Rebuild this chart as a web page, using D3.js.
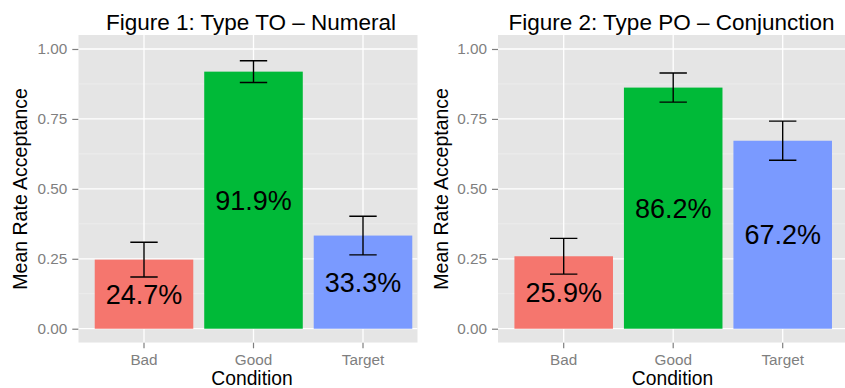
<!DOCTYPE html>
<html><head><meta charset="utf-8">
<script src="https://cdn.jsdelivr.net/npm/d3@7"></script>
<style>body{margin:0;background:#fff}svg{display:block}text{font-family:"Liberation Sans",Arial,sans-serif}</style>
</head><body>
<svg id="c" width="845" height="388"></svg>
<script>
const categories = ["Bad", "Good", "Target"];
const titles = ["Figure 1: Type TO \u2013 Numeral", "Figure 2: Type PO \u2013 Conjunction"];
const means1 = [0.247, 0.919, 0.333];
const errs1 = [0.062, 0.039, 0.069];
const means2 = [0.259, 0.862, 0.672];
const errs2 = [0.064, 0.052, 0.070];
const labels1 = ["24.7%", "91.9%", "33.3%"];
const labels2 = ["25.9%", "86.2%", "67.2%"];
const yTicks = [0, 0.25, 0.5, 0.75, 1];
const yTickLabels = ["0.00", "0.25", "0.50", "0.75", "1.00"];
const colors = ["#F5766E", "#00BA38", "#7A9AFF"];

const svg = d3.select("#c");
const panels = [
  {x0: 78.3, clip: 417.7, means: means1, errs: errs1, labels: labels1, title: titles[0], titleX: 251, yTitleX: 27},
  {x0: 498.0, clip: 845, means: means2, errs: errs2, labels: labels2, title: titles[1], titleX: 671.5, yTitleX: 448}
];
const step = 109.5;
const pTop = 35, pBottom = 342.7;
const y = d3.scaleLinear().domain([-0.05, 1.05]).range([pBottom, pTop]);

panels.forEach((p, pi) => {
  const x = d3.scaleBand().domain(categories).range([p.x0, p.x0 + 3.2 * step]).paddingInner(0.1).paddingOuter(0.15);
  const g = svg.append("g");
  const clipId = "clip" + pi;
  svg.append("clipPath").attr("id", clipId).append("rect")
    .attr("x", p.x0).attr("y", pTop).attr("width", p.clip - p.x0).attr("height", pBottom - pTop);
  const pg = g.append("g").attr("clip-path", `url(#${clipId})`);
  pg.append("rect").attr("x", p.x0).attr("y", pTop).attr("width", p.clip - p.x0).attr("height", pBottom - pTop).attr("fill", "#E5E5E5");
  const minor = [0.125, 0.375, 0.625, 0.875];
  pg.selectAll(".mn").data(minor).enter().append("line")
    .attr("x1", p.x0).attr("x2", p.clip).attr("y1", d => y(d)).attr("y2", d => y(d))
    .attr("stroke", "#F2F2F2").attr("stroke-width", 0.6);
  pg.selectAll(".mj").data(yTicks).enter().append("line")
    .attr("x1", p.x0).attr("x2", p.clip).attr("y1", d => y(d)).attr("y2", d => y(d))
    .attr("stroke", "#FFFFFF").attr("stroke-width", 1.3);
  pg.selectAll(".vj").data(categories).enter().append("line")
    .attr("x1", d => x(d) + x.bandwidth() / 2).attr("x2", d => x(d) + x.bandwidth() / 2)
    .attr("y1", pTop).attr("y2", pBottom).attr("stroke", "#FFFFFF").attr("stroke-width", 1.3);
  pg.selectAll(".bar").data(categories).enter().append("rect")
    .attr("x", d => x(d)).attr("width", x.bandwidth())
    .attr("y", (d, i) => y(p.means[i])).attr("height", (d, i) => y(0) - y(p.means[i]))
    .attr("fill", (d, i) => colors[i]);
  pg.selectAll(".lbl").data(categories).enter().append("text")
    .attr("x", d => x(d) + x.bandwidth() / 2).attr("y", (d, i) => y(p.means[i] / 2))
    .attr("dy", "0.36em").attr("text-anchor", "middle").attr("font-size", 27).attr("fill", "#000")
    .text((d, i) => p.labels[i]);
  const ew = 0.25 * step / 2;
  categories.forEach((c, i) => {
    const cx = x(c) + x.bandwidth() / 2;
    const lo = y(p.means[i] - p.errs[i]), hi = y(p.means[i] + p.errs[i]);
    pg.append("path").attr("d", `M${cx - ew},${hi}H${cx + ew}M${cx},${hi}V${lo}M${cx - ew},${lo}H${cx + ew}`)
      .attr("stroke", "#000").attr("stroke-width", 1.4).attr("fill", "none");
  });
  const ya = g.append("g").attr("transform", `translate(${p.x0},0)`)
    .call(d3.axisLeft(y).tickValues(yTicks).tickFormat((d, i) => yTickLabels[i]).tickSize(6).tickPadding(5));
  ya.select(".domain").remove();
  ya.selectAll("line").attr("stroke", "#7F7F7F").attr("stroke-width", 1.2);
  ya.selectAll("text").attr("fill", "#7F7F7F").attr("font-size", 15.3).attr("font-family", "Liberation Sans, Arial, sans-serif");
  const xa = g.append("g").attr("transform", `translate(0,${pBottom})`)
    .call(d3.axisBottom(x).tickSize(5.6).tickPadding(5.5));
  xa.select(".domain").remove();
  xa.selectAll("line").attr("stroke", "#7F7F7F").attr("stroke-width", 1.2);
  xa.selectAll("text").attr("fill", "#7F7F7F").attr("font-size", 15.3).attr("font-family", "Liberation Sans, Arial, sans-serif");
  g.append("text").attr("x", p.titleX).attr("y", 29.5).attr("text-anchor", "middle").attr("font-size", 22.5).attr("fill", "#000").text(p.title);
  g.append("text").attr("x", p.titleX + 1).attr("y", 385).attr("text-anchor", "middle").attr("font-size", 19.3).attr("fill", "#000").text("Condition");
  g.append("text").attr("transform", `translate(${p.yTitleX},${(pTop + pBottom) / 2}) rotate(-90)`)
    .attr("text-anchor", "middle").attr("font-size", 19.5).attr("fill", "#000").text("Mean Rate Acceptance");
});
</script>
</body></html>
